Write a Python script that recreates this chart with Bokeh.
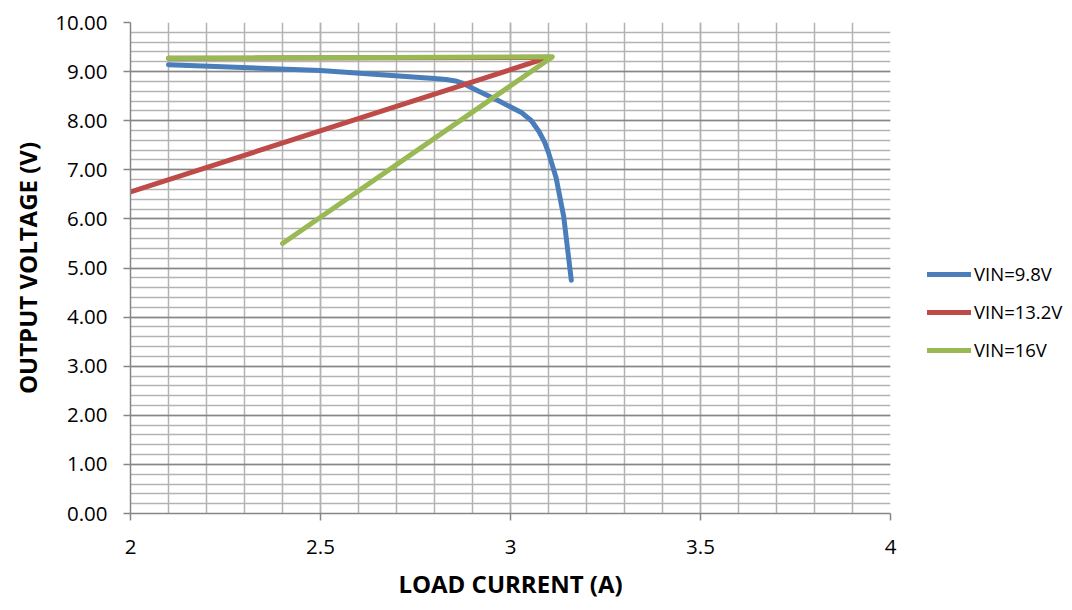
import numpy as np
from bokeh.plotting import figure
from bokeh.layouts import row
from bokeh.models import (FixedTicker, NumeralTickFormatter, Range1d, Legend, LegendItem)
from bokeh.embed import file_html
from bokeh.resources import INLINE

# ---- data ----
vin98_x = [2.10, 2.50, 2.80, 2.83, 2.855, 2.875, 2.90, 2.93, 2.97, 3.03, 3.055, 3.075, 3.09, 3.10, 3.12, 3.14, 3.16]
vin98_y = [9.14, 9.02, 8.86, 8.84, 8.81, 8.76, 8.66, 8.55, 8.40, 8.16, 8.00, 7.78, 7.56, 7.35, 6.84, 6.05, 4.75]

vin132_x = [2.00, 3.10, 2.10]
vin132_y = [6.55, 9.29, 9.27]

vin16_x = [2.10, 3.11, 2.40]
vin16_y = [9.27, 9.30, 5.50]

series_labels = ["VIN=9.8V", "VIN=13.2V", "VIN=16V"]
series_colors = ["#4A7EBB", "#BE4B48", "#98B954"]

x_major = [2.0, 2.5, 3.0, 3.5, 4.0]
x_minor = [round(v, 1) for v in np.arange(2.0, 4.0001, 0.1)]
y_major = [0, 1, 2, 3, 4, 5, 6, 7, 8, 9, 10]
y_minor = [round(v, 1) for v in np.arange(0.0, 10.0001, 0.2)]

x_title = "LOAD CURRENT (A)"
y_title = "OUTPUT VOLTAGE (V)"

FONT = "Open Sans"
MAJOR_GRID = "#868686"
MINOR_GRID = "#b3b3b3"
LINE_W = 5

series = [(vin98_x, vin98_y), (vin132_x, vin132_y), (vin16_x, vin16_y)]

p = figure(width=900, height=602, output_backend="svg", toolbar_location=None,
           x_range=Range1d(2, 4), y_range=Range1d(0, 10),
           min_border_left=130, min_border_right=10, min_border_top=22, min_border_bottom=89)
p.outline_line_color = None
p.background_fill_color = "white"
p.border_fill_color = "white"

# axes
p.xaxis.ticker = FixedTicker(ticks=x_major, minor_ticks=x_minor)
p.yaxis.ticker = FixedTicker(ticks=y_major, minor_ticks=y_minor)
p.xaxis.formatter = NumeralTickFormatter(format="0.[0]")
p.yaxis.formatter = NumeralTickFormatter(format="0.00")
for ax in (p.xaxis, p.yaxis):
    ax.axis_line_color = MAJOR_GRID
    ax.axis_line_width = 1.5
    ax.major_tick_line_color = MAJOR_GRID
    ax.major_tick_line_width = 1.5
    ax.major_tick_in = 0
    ax.major_tick_out = 7
    ax.minor_tick_line_color = None
    ax.major_label_text_font = FONT
    ax.major_label_text_font_size = "20.5px"
    ax.major_label_text_color = "black"
    ax.axis_label_text_font = FONT
    ax.axis_label_text_font_style = "bold"
    ax.axis_label_text_font_size = "24px"
    ax.axis_label_text_color = "black"
p.xaxis.axis_label = x_title
p.yaxis.axis_label = y_title
p.xaxis.major_label_standoff = 19
p.yaxis.major_label_standoff = 16
p.xaxis.axis_label_standoff = 10
p.yaxis.axis_label_standoff = 8

# grids
p.xgrid.ticker = FixedTicker(ticks=x_major, minor_ticks=x_minor)
p.ygrid.ticker = FixedTicker(ticks=y_major, minor_ticks=y_minor)
p.xgrid.grid_line_color = MINOR_GRID
p.xgrid.grid_line_width = 1.5
p.xgrid.minor_grid_line_color = MINOR_GRID
p.xgrid.minor_grid_line_width = 1.5
p.ygrid.grid_line_color = MAJOR_GRID
p.ygrid.grid_line_width = 1.5
p.ygrid.minor_grid_line_color = MINOR_GRID
p.ygrid.minor_grid_line_width = 1.5

# lines
for (xs, ys), col in zip(series, series_colors):
    p.line(xs, ys, line_color=col, line_width=LINE_W, line_cap="round", line_join="round")

# legend panel: a second, axis-less figure whose lines lie outside its view
lg = figure(width=164, height=602, output_backend="svg", toolbar_location=None,
            x_range=Range1d(0, 1), y_range=Range1d(0, 1),
            min_border_left=0, min_border_right=0, min_border_top=0, min_border_bottom=0)
lg.axis.visible = False
lg.grid.visible = False
lg.outline_line_color = None
lg.border_fill_color = "white"
lg_renderers = []
for (xs, ys), col in zip(series, series_colors):
    r = lg.line(xs, ys, line_color=col, line_width=LINE_W, line_cap="round", line_join="round")
    lg_renderers.append(r)

legend = Legend(items=[LegendItem(label=lab, renderers=[r]) for lab, r in zip(series_labels, lg_renderers)],
                location=(27, 151), orientation="vertical",
                border_line_color=None, background_fill_alpha=0,
                padding=0, margin=0, spacing=13,
                glyph_width=44, glyph_height=24, label_standoff=3,
                label_text_font=FONT, label_text_font_size="18.5px", label_text_color="black")
lg.add_layout(legend, "center")

layout = row(p, lg)
open("out.html", "w").write(file_html(layout, INLINE))
